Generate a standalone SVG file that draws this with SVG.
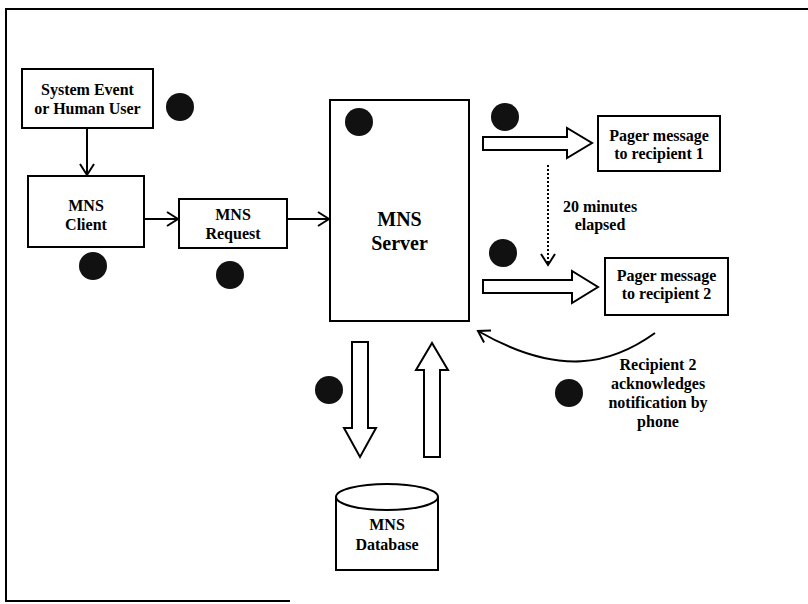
<svg xmlns="http://www.w3.org/2000/svg" width="808" height="604" viewBox="0 0 808 604">
  <style>
    .box { fill: #fff; stroke: #000; stroke-width: 2; }
    .lbl { font-family: "Liberation Serif", "Times New Roman", serif; font-weight: bold; font-size: 16px; fill: #000; text-anchor: middle; }
    .big { font-size: 20px; }
    .dot { fill: #111; }
    .line { fill: none; stroke: #000; stroke-width: 2; }
    .dash { fill: none; stroke: #000; stroke-width: 2; stroke-dasharray: 2 2; }
    .block { fill: #fff; stroke: #000; stroke-width: 2; stroke-linejoin: miter; }
    .frame { fill: none; stroke: #000; stroke-width: 2; }
  </style>
  <defs>
    <marker id="open" viewBox="0 0 16 16" refX="14" refY="8" markerWidth="16" markerHeight="16" markerUnits="userSpaceOnUse" orient="auto">
      <path d="M3,1 L14,8 L3,15" fill="none" stroke="#000" stroke-width="2"/>
    </marker>
  </defs>

  <rect width="808" height="604" fill="#fff"/>

  <!-- outer frame -->
  <path class="frame" d="M808,9 H6 V601 H290"/>

  <!-- connectors -->
  <g id="connectors">
    <line class="line" x1="87" y1="128" x2="87" y2="175" marker-end="url(#open)"/>
    <line class="line" x1="144" y1="219" x2="178" y2="219" marker-end="url(#open)"/>
    <line class="line" x1="287" y1="219" x2="329" y2="219" marker-end="url(#open)"/>
    <line class="dash" x1="548" y1="165" x2="548" y2="265" marker-end="url(#open)"/>
    <path class="line" d="M655,333 C612,364 560,378 478,331" marker-end="url(#open)"/>
    <!-- block arrows -->
    <polygon class="block" points="483,137 567,137 567,128 592,143 567,158 567,150 483,150"/>
    <polygon class="block" points="483,280 572,280 572,271 598,287 572,303 572,293 483,293"/>
    <polygon class="block" points="352,342 368,342 368,428 376,428 360,457 344,428 352,428"/>
    <polygon class="block" points="424,457 440,457 440,370 448,370 432,343 416,370 424,370"/>
  </g>

  <g id="source">
    <rect class="box" x="22" y="69" width="131" height="59"/>
    <text class="lbl" x="87.5" y="95">System Event</text>
    <text class="lbl" x="87.5" y="114">or Human User</text>
    <circle class="dot" cx="180" cy="107" r="14"/>
  </g>

  <g id="client">
    <rect class="box" x="28" y="176" width="116" height="71"/>
    <text class="lbl" x="86" y="211">MNS</text>
    <text class="lbl" x="86" y="230">Client</text>
    <circle class="dot" cx="93" cy="266" r="14"/>
  </g>

  <g id="request">
    <rect class="box" x="179" y="199" width="108" height="49"/>
    <text class="lbl" x="233" y="220">MNS</text>
    <text class="lbl" x="233" y="239">Request</text>
    <circle class="dot" cx="230" cy="275" r="14"/>
  </g>

  <g id="server">
    <rect class="box" x="330" y="100" width="139" height="221"/>
    <text class="lbl big" x="399.5" y="226">MNS</text>
    <text class="lbl big" x="399.5" y="250">Server</text>
    <circle class="dot" cx="359" cy="122" r="14"/>
  </g>

  <g id="pager1">
    <rect class="box" x="598" y="116" width="122" height="55"/>
    <text class="lbl" x="659" y="141">Pager message</text>
    <text class="lbl" x="659" y="159">to recipient 1</text>
    <circle class="dot" cx="505" cy="117" r="14"/>
  </g>

  <g id="elapsed">
    <text class="lbl" x="600" y="212">20 minutes</text>
    <text class="lbl" x="600" y="230">elapsed</text>
  </g>

  <g id="pager2">
    <rect class="box" x="605" y="258" width="123" height="57"/>
    <text class="lbl" x="666.5" y="281">Pager message</text>
    <text class="lbl" x="666.5" y="299">to recipient 2</text>
    <circle class="dot" cx="503" cy="253" r="14"/>
  </g>

  <g id="ack">
    <text class="lbl" x="658" y="370">Recipient 2</text>
    <text class="lbl" x="658" y="389">acknowledges</text>
    <text class="lbl" x="658" y="408">notification by</text>
    <text class="lbl" x="658" y="427">phone</text>
    <circle class="dot" cx="569" cy="393" r="14"/>
  </g>

  <g id="database">
    <path class="box" d="M336,497 V570 H438 V497"/>
    <ellipse class="box" cx="387" cy="497" rx="51" ry="13"/>
    <text class="lbl" x="387" y="530">MNS</text>
    <text class="lbl" x="387" y="550">Database</text>
    <circle class="dot" cx="329" cy="390" r="14"/>
  </g>
</svg>
